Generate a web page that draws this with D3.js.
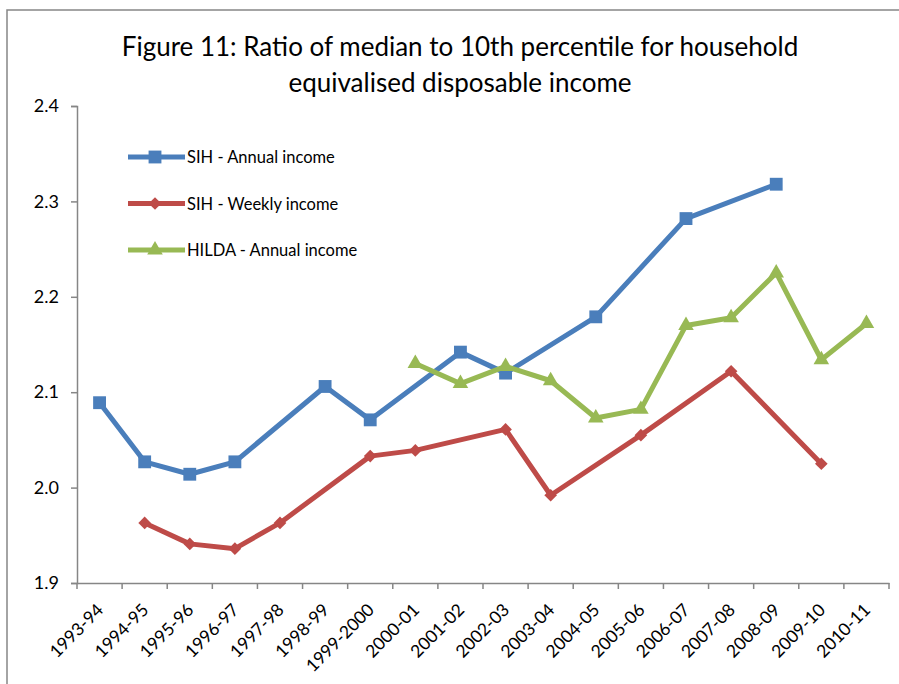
<!DOCTYPE html>
<meta charset="utf-8">
<style>
body { margin: 0; background: #fff; }
svg text { font-family: Lato, "Open Sans", sans-serif; fill: #000; }
</style>
<body>
<script src="https://d3js.org/d3.v7.min.js"></script>
<script>
// chart values
var years = ["1993-94", "1994-95", "1995-96", "1996-97", "1997-98", "1998-99", "1999-2000",
  "2000-01", "2001-02", "2002-03", "2003-04", "2004-05", "2005-06", "2006-07", "2007-08",
  "2008-09", "2009-10", "2010-11"];
var sihAnnual = [2.089, 2.027, 2.014, 2.027, null, 2.106, 2.071, null, 2.142, 2.120, null,
  2.179, null, 2.282, null, 2.318, null, null];
var sihWeekly = [null, 1.963, 1.941, 1.936, 1.963, null, 2.033, 2.039, null, 2.061, 1.992,
  null, 2.055, null, 2.122, null, 2.025, null];
var hilda = [null, null, null, null, null, null, null, 2.130, 2.109, 2.127, 2.112, 2.073,
  2.082, 2.170, 2.178, 2.225, 2.134, 2.172];
var yTicks = [1.9, 2.0, 2.1, 2.2, 2.3, 2.4];
var seriesNames = ["SIH - Annual income", "SIH - Weekly income", "HILDA - Annual income"];

var W = 899, H = 684;
var plotL = 77, plotR = 889, plotT = 106, plotB = 583;

var svg = d3.select("body").append("svg")
    .attr("width", W)
    .attr("height", H);

// outer chart border
svg.append("rect")
    .attr("x", 7).attr("y", 10)
    .attr("width", W + 20).attr("height", H + 20)
    .attr("fill", "#fff")
    .attr("stroke", "#868686")
    .attr("stroke-width", 1.5);

var x = d3.scaleBand().domain(years).range([plotL, plotR]);
var y = d3.scaleLinear().domain([1.9, 2.4]).range([plotB, plotT]);

// title
var title = svg.append("text")
    .attr("text-anchor", "middle")
    .style("font-size", "26px");
title.append("tspan").attr("x", 460).attr("y", 56)
    .text("Figure 11: Ratio of median to 10th percentile for household");
title.append("tspan").attr("x", 460).attr("y", 92)
    .text("equivalised disposable income");

// y axis
var yAxis = svg.append("g")
    .attr("transform", "translate(" + plotL + ",0)")
    .call(d3.axisLeft(y).tickValues(yTicks).tickFormat(d3.format(".1f")).tickSize(6).tickPadding(12));
yAxis.selectAll("text").style("font-size", "18px");

// x axis
var xAxis = svg.append("g")
    .attr("transform", "translate(0," + plotB + ")")
    .call(d3.axisBottom(x).tickSize(0).tickFormat(""));
xAxis.selectAll(".tick").remove();
// Excel style ticks on band edges
xAxis.selectAll("line.edge")
    .data(years.map(function(d) { return x(d); }).concat([plotR]))
    .enter().append("line")
    .attr("class", "edge")
    .attr("x1", function(d) { return d; }).attr("x2", function(d) { return d; })
    .attr("y1", 0).attr("y2", 6);

svg.selectAll("text.xlab")
    .data(years)
    .enter().append("text")
    .attr("class", "xlab")
    .attr("text-anchor", "end")
    .style("font-size", "17.5px")
    .attr("transform", function(d) {
        return "translate(" + (x(d) + x.bandwidth() / 2 + 5) + "," + (plotB + 28) + ") rotate(-45)";
    })
    .text(function(d) { return d; });

svg.selectAll(".domain, .edge, .tick line")
    .attr("stroke", "#868686")
    .attr("stroke-width", 1.5);

// series
var series = [
  { name: seriesNames[0], values: sihAnnual, color: "#4a7ebb", symbol: d3.symbolSquare, size: 165, rot: 0 },
  { name: seriesNames[1], values: sihWeekly, color: "#be4b48", symbol: d3.symbolSquare, size: 80, rot: 45 },
  { name: seriesNames[2], values: hilda, color: "#98b954", symbol: d3.symbolTriangle, size: 105, rot: 0 }
];

var line = d3.line()
    .x(function(d) { return x(d.year) + x.bandwidth() / 2; })
    .y(function(d) { return y(d.value); });

series.forEach(function(s) {
    var pts = years.map(function(yr, i) { return { year: yr, value: s.values[i] }; })
        .filter(function(d) { return d.value != null; });

    svg.append("path")
        .datum(pts)
        .attr("fill", "none")
        .attr("stroke", s.color)
        .attr("stroke-width", 5)
        .attr("stroke-linejoin", "round")
        .attr("d", line);

    svg.selectAll(null)
        .data(pts)
        .enter().append("path")
        .attr("fill", s.color)
        .attr("transform", function(d) {
            return "translate(" + (x(d.year) + x.bandwidth() / 2) + "," + y(d.value) + ") rotate(" + s.rot + ")";
        })
        .attr("d", d3.symbol().type(s.symbol).size(s.size));
});

// legend
var legend = svg.selectAll("g.legend")
    .data(series)
    .enter().append("g")
    .attr("class", "legend")
    .attr("transform", function(d, i) { return "translate(128," + (157 + i * 46.5) + ")"; });

legend.append("line")
    .attr("x1", 0).attr("x2", 57)
    .attr("stroke", function(d) { return d.color; })
    .attr("stroke-width", 5);
legend.append("path")
    .attr("fill", function(d) { return d.color; })
    .attr("transform", function(d) { return "translate(27,0) rotate(" + d.rot + ")"; })
    .attr("d", function(d) { return d3.symbol().type(d.symbol).size(d.size)(); });
legend.append("text")
    .attr("x", 59)
    .attr("y", 6)
    .style("font-size", "16.5px")
    .text(function(d) { return d.name; });
</script>
</body>
</html>
